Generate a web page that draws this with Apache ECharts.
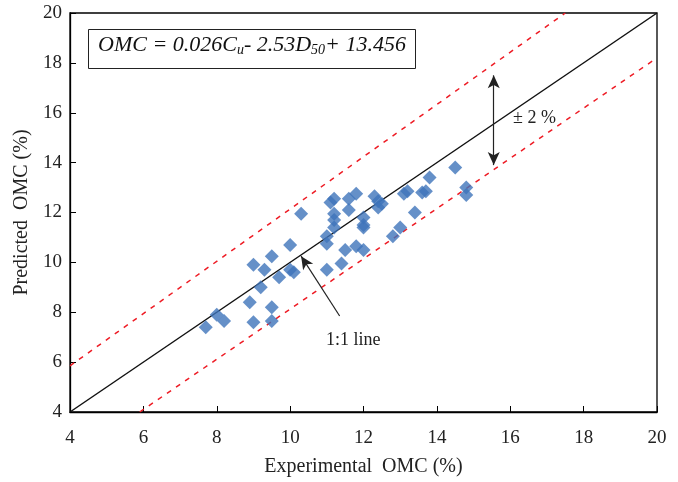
<!DOCTYPE html>
<html>
<head>
<meta charset="utf-8">
<script src="https://cdn.jsdelivr.net/npm/echarts@6/dist/echarts.min.js"></script>
<style>
  html, body { margin: 0; padding: 0; background: #fff; }
  #chart { width: 678px; height: 482px; }
</style>
</head>
<body>
<div id="chart"></div>
<script>
// measured OMC (%) vs predicted OMC (%)
const experimental = [7.7, 8.0, 8.2, 8.9, 9.0, 9.5, 9.5, 9.2, 9.0, 9.3, 9.5, 9.7, 10.0, 10.1, 10.0, 10.3,
  11.0, 11.0, 11.0, 11.1, 11.2, 11.2, 11.2, 11.2, 11.4, 11.5, 11.6, 11.6, 11.8, 11.8, 12.0, 12.0, 12.0, 12.0,
  12.3, 12.4, 12.4, 12.5, 12.8, 13.0, 13.1, 13.2, 13.4, 13.6, 13.7, 13.8, 14.5, 14.8, 14.8];
const predicted = [7.4, 7.9, 7.65, 8.4, 7.6, 7.65, 8.2, 9.0, 9.9, 9.7, 10.25, 9.4, 9.7, 9.6, 10.7, 11.95,
  9.7, 10.75, 11.05, 12.4, 12.55, 11.95, 11.7, 11.4, 9.95, 10.5, 12.1, 12.55, 12.75, 10.65, 10.5, 11.8, 11.5, 11.4,
  12.65, 12.45, 12.2, 12.35, 11.05, 11.4, 12.75, 12.85, 12.0, 12.8, 12.85, 13.4, 13.8, 13.0, 12.7];

const lineOneToOne = [[4, 4], [20, 20]];
const upperBound = [[4, 5.85], [17.5, 20]];
const lowerBound = [[5.9, 4], [20, 18.2]];
const rangeArrow = [[15.55, 17.5], [15.55, 13.9]];
const lineArrow = [[11.35, 7.85], [10.3, 10.25]];

const ticks = [4, 6, 8, 10, 12, 14, 16, 18, 20];

const points = experimental.map((x, i) => [x, predicted[i]]);
const serif = '"Liberation Serif", "DejaVu Serif", serif';

const chart = echarts.init(document.getElementById('chart'));
chart.setOption({
  animation: false,
  grid: { left: 70, right: 21, top: 13, bottom: 70, show: true, borderColor: '#000', borderWidth: 1.3 },
  xAxis: {
    type: 'value', min: ticks[0], max: ticks[ticks.length - 1], interval: 2,
    name: 'Experimental\u00a0\u00a0OMC (%)', nameLocation: 'middle', nameGap: 45,
    nameTextStyle: { fontFamily: serif, fontSize: 20, color: '#222' },
    axisLine: { lineStyle: { color: '#000', width: 1.3 } },
    axisTick: { show: true, inside: true, length: 6, lineStyle: { color: '#000' } },
    axisLabel: { fontFamily: serif, fontSize: 19, color: '#222', margin: 17 },
    splitLine: { show: false }
  },
  yAxis: {
    type: 'value', min: ticks[0], max: ticks[ticks.length - 1], interval: 2,
    name: 'Predicted\u00a0\u00a0OMC (%)', nameLocation: 'middle', nameGap: 36,
    nameTextStyle: { fontFamily: serif, fontSize: 20, color: '#222' },
    axisLine: { lineStyle: { color: '#000', width: 1.3 } },
    axisTick: { show: true, inside: true, length: 6, lineStyle: { color: '#000' } },
    axisLabel: { fontFamily: serif, fontSize: 19, color: '#222', margin: 8 },
    splitLine: { show: false }
  },
  series: [
    {
      type: 'line', data: lineOneToOne, symbol: 'none', silent: true,
      lineStyle: { color: '#111', width: 1.5 }
    },
    {
      type: 'line', data: upperBound, symbol: 'none', silent: true,
      lineStyle: { color: '#ee1c25', width: 1.5, type: [5, 6] }
    },
    {
      type: 'line', data: lowerBound, symbol: 'none', silent: true,
      lineStyle: { color: '#ee1c25', width: 1.5, type: [5, 6] }
    },
    {
      type: 'scatter', data: points, symbol: 'diamond', symbolSize: 14,
      itemStyle: { color: '#3f74ba' }, z: 5
    },
    {
      type: 'line', data: [], symbol: 'none', silent: true,
      markLine: {
        silent: true, animation: false,
        label: { show: false },
        lineStyle: { color: '#222', width: 1.2, type: 'solid' },
        symbolSize: [9, 13],
        data: [
          [{ coord: rangeArrow[0], symbol: 'arrow' }, { coord: rangeArrow[1], symbol: 'arrow' }],
          [{ coord: lineArrow[0], symbol: 'none' }, { coord: lineArrow[1], symbol: 'arrow' }]
        ]
      }
    }
  ],
  graphic: [
    {
      type: 'rect', left: 88, top: 29,
      shape: { width: 327, height: 39 },
      style: { fill: '#fff', stroke: '#222', lineWidth: 1 }, z: 10
    },
    {
      type: 'text', left: 98, top: 34, z: 11,
      style: {
        text: '{m|OMC = 0.026C}{s|u}{m|- 2.53D}{s|50}{m|+ 13.456}',
        rich: {
          m: { fontFamily: serif, fontStyle: 'italic', fontSize: 22, fill: '#111', verticalAlign: 'middle' },
          s: { fontFamily: serif, fontStyle: 'italic', fontSize: 14, fill: '#111', padding: [11, 0, 0, 0] }
        }
      }
    },
    {
      type: 'text', left: 513, top: 109, z: 11,
      style: { text: '± 2 %', fontFamily: serif, fontSize: 18, fill: '#222' }
    },
    {
      type: 'text', left: 326, top: 331, z: 11,
      style: { text: '1:1 line', fontFamily: serif, fontSize: 18, fill: '#222' }
    }
  ]
});
</script>
</body>
</html>
